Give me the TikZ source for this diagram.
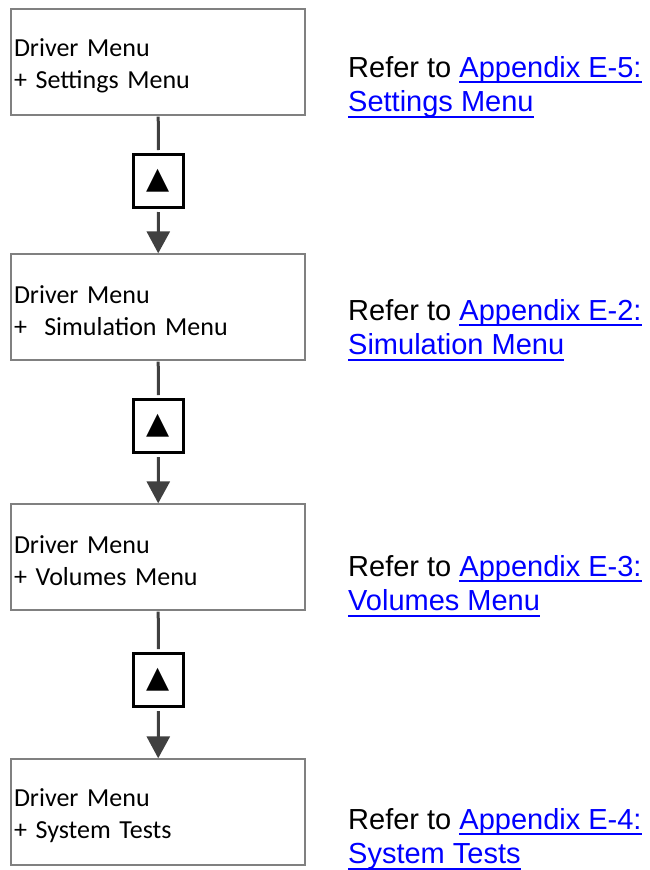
\documentclass[tikz,border=0pt]{standalone}
\usepackage{fontspec}
\usepackage{xcolor}
\usetikzlibrary{arrows.meta}
\newfontfamily\boxfont{Carlito}
\newfontfamily\reffont{Liberation Sans}
\newfontfamily\symfont{DejaVu Sans}
\definecolor{linkblue}{RGB}{0,0,255}
\definecolor{conngray}{RGB}{64,64,64}
\definecolor{framegray}{RGB}{128,128,128}
\newcommand{\lnk}[1]{{\color{linkblue}\setbox0\hbox{#1}\rlap{\vrule height -3.8pt depth 6.2pt width \wd0}\box0}}

\begin{document}
\begin{tikzpicture}[x=1pt,y=-1pt,
    menubox/.style={draw=framegray, line width=1.4pt, text width=288pt, inner xsep=3pt,
      minimum height=106pt, align=left, font=\boxfont\fontsize{26}{32}\selectfont,
      execute at begin node=\rule{0pt}{26pt}},
    keybtn/.style={draw=black, line width=3pt, minimum width=50pt, minimum height=53pt,
      inner sep=0pt, font=\symfont\fontsize{30}{30}\selectfont},
    reftext/.style={anchor=north west, inner sep=0pt, align=left,
      font=\reffont\fontsize{29}{34.5}\selectfont},
    conn/.style={draw=conngray, line width=3pt, shorten <=1pt, shorten >=3pt},
    connarrow/.style={draw=conngray, line width=3pt, shorten <=3pt,
      -{Triangle[width=23pt,length=22pt]}}]
    \useasboundingbox (0,0) rectangle (650,870);

    % menu boxes
    \node[menubox] (box1) at (158,62) {Driver Menu\\+ Settings Menu};
    \node[menubox] (box2) at (158,307) {Driver Menu\\+\ \ Simulation Menu};
    \node[menubox] (box3) at (158,557) {Driver Menu\\+ Volumes Menu};
    \node[menubox] (box4) at (158,812) {Driver Menu\\+ System Tests};

    % up keys
    \node[keybtn] (btn1) at (158.5,181) {▲};
    \node[keybtn] (btn2) at (158.5,426) {▲};
    \node[keybtn] (btn3) at (158.5,680) {▲};

    \draw[conn] (box1) -- (btn1);
    \draw[connarrow] (btn1) -- (box2);
    \draw[conn] (box2) -- (btn2);
    \draw[connarrow] (btn2) -- (box3);
    \draw[conn] (box3) -- (btn3);
    \draw[connarrow] (btn3) -- (box4);

    % references
    \node[reftext] (ref1) at (348,56) {Refer to \lnk{Appendix E-5:}\\\lnk{Settings Menu}};
    \node[reftext] (ref2) at (348,299) {Refer to \lnk{Appendix E-2:}\\\lnk{Simulation Menu}};
    \node[reftext] (ref3) at (348,555) {Refer to \lnk{Appendix E-3:}\\\lnk{Volumes Menu}};
    \node[reftext] (ref4) at (348,808) {Refer to \lnk{Appendix E-4:}\\\lnk{System Tests}};
\end{tikzpicture}
\end{document}
